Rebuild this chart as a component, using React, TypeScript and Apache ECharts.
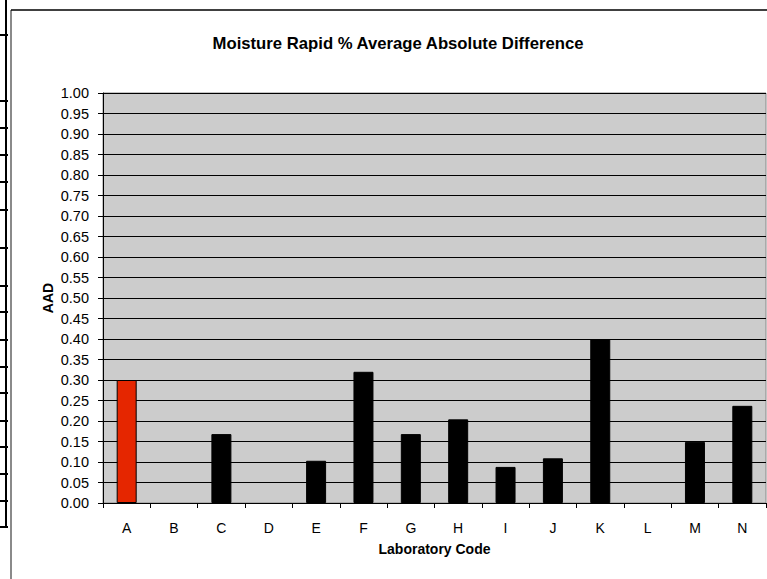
import React, { useEffect, useRef } from "react";
import * as echarts from "echarts";

const categories = ["A", "B", "C", "D", "E", "F", "G", "H", "I", "J", "K", "L", "M", "N"];
const aadValues: (number | null)[] = [0.3, null, 0.168, null, 0.103, 0.32, 0.168, 0.204, 0.088, 0.109, 0.4, null, 0.149, 0.237];
const highlightLab = "A";
const titleText = "Moisture Rapid % Average Absolute Difference";
const yAxisName = "AAD";
const xAxisName = "Laboratory Code";
const leftTickYs = [35, 101, 128, 155, 182, 210, 248, 286, 312, 340, 367, 393, 421, 447, 474, 501, 527];

const FONT = "'Liberation Sans', Arial, sans-serif";

export default function App() {
  const ref = useRef<HTMLDivElement>(null);
  useEffect(() => {
    if (!ref.current) return;
    const chart = echarts.init(ref.current, null, { renderer: "svg" });
    const graphics: any[] = [
      { type: "line", shape: { x1: 6, y1: 0, x2: 6, y2: 528 }, style: { stroke: "#000", lineWidth: 2 } },
      ...leftTickYs.map((y) => ({
        type: "line",
        shape: { x1: 0, y1: y, x2: 8, y2: y },
        style: { stroke: "#000", lineWidth: 2 },
      })),
      { type: "line", shape: { x1: 11, y1: 10, x2: 11, y2: 579 }, style: { stroke: "#8a8a8a", lineWidth: 2 } },
      { type: "line", shape: { x1: 11, y1: 10, x2: 767, y2: 10 }, style: { stroke: "#000", lineWidth: 1.5 } },
      {
        type: "text",
        x: 398,
        y: 43,
        style: {
          text: titleText,
          fontFamily: FONT,
          fontSize: 16.7,
          fontWeight: "bold",
          fill: "#000",
          align: "center",
          verticalAlign: "middle",
        },
      },
    ];
    chart.setOption({
      animation: false,
      backgroundColor: "#ffffff",
      textStyle: { fontFamily: FONT },
      graphic: graphics,
      grid: {
        left: 103,
        right: 1,
        top: 93,
        bottom: 76,
        show: true,
        backgroundColor: "#cccccc",
        borderColor: "#888888",
        borderWidth: 1,
      },
      xAxis: {
        type: "category",
        data: categories,
        name: xAxisName,
        nameLocation: "middle",
        nameGap: 39,
        nameMoveOverlap: false,
        nameTextStyle: { fontFamily: FONT, fontSize: 14, fontWeight: "bold", color: "#000" },
        axisLine: { lineStyle: { color: "#000", width: 1 } },
        axisTick: { show: true, length: 5, lineStyle: { color: "#000" } },
        axisLabel: { fontFamily: FONT, fontSize: 14, color: "#000", margin: 18 },
      },
      yAxis: {
        type: "value",
        min: 0,
        max: 1,
        interval: 0.05,
        name: yAxisName,
        nameLocation: "middle",
        nameGap: 48,
        nameMoveOverlap: false,
        nameTextStyle: { fontFamily: FONT, fontSize: 14, fontWeight: "bold", color: "#000" },
        axisLine: { show: true, lineStyle: { color: "#000", width: 1 } },
        axisTick: { show: true, length: 5, lineStyle: { color: "#000" } },
        axisLabel: {
          fontFamily: FONT,
          fontSize: 14.5,
          color: "#000",
          margin: 14,
          formatter: (v: number) => v.toFixed(2),
        },
        splitLine: { show: true, lineStyle: { color: "#000", width: 1 } },
      },
      series: [
        {
          type: "bar",
          data: aadValues.map((v, i) => ({
            value: v,
            itemStyle: {
              color: categories[i] === highlightLab ? "#e52600" : "#000000",
              borderColor: "#000",
              borderWidth: 1,
            },
          })),
          barWidth: 20,
        },
      ],
    });
    return () => chart.dispose();
  }, []);
  return (
    <div
      ref={ref}
      style={{ position: "fixed", left: 0, top: 0, width: 767, height: 579 }}
    />
  );
}
